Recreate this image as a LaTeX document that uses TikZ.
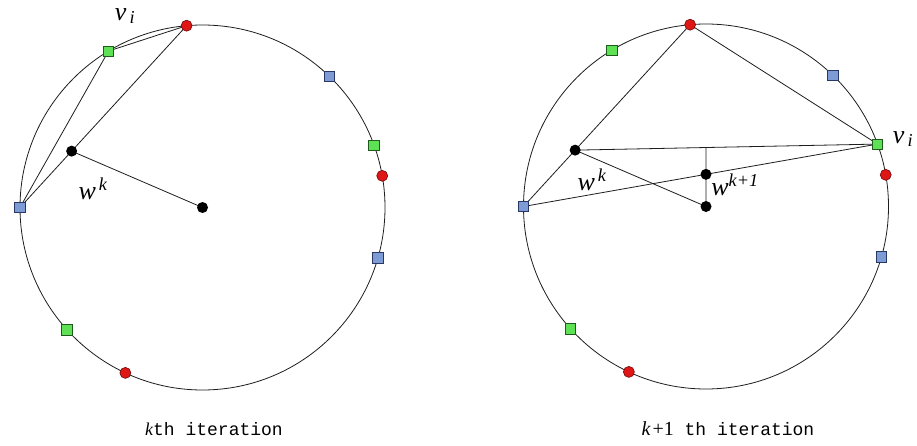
\documentclass[tikz,border=0pt]{standalone}
\usepackage{fontspec}
\newfontfamily\capfont{Liberation Mono}
\newfontfamily\lblfont{Liberation Serif}
\usetikzlibrary{calc}
\definecolor{mkgreen}{RGB}{95,225,85}
\definecolor{mkgreenb}{RGB}{30,90,30}
\definecolor{mkblue}{RGB}{125,155,212}
\definecolor{mkblueb}{RGB}{40,55,100}
\definecolor{mkred}{RGB}{222,22,22}
\definecolor{mkredb}{RGB}{110,10,10}
\definecolor{lncol}{RGB}{30,30,30}
\tikzset{
  ln/.style={draw=lncol, line width=0.8pt},
  gsq/.style={rectangle, draw=mkgreenb, fill=mkgreen, line width=0.6pt, minimum size=10.5pt, inner sep=0pt},
  bsq/.style={rectangle, draw=mkblueb, fill=mkblue, line width=0.6pt, minimum size=10.5pt, inner sep=0pt},
  rdot/.style={circle, draw=mkredb, fill=mkred, line width=0.6pt, minimum size=11pt, inner sep=0pt},
  kdot/.style={circle, fill=black, minimum size=11pt, inner sep=0pt},
  lbl/.style={inner sep=0pt, font=\fontsize{26}{26}\selectfont\lblfont\itshape},
  captext/.style={inner sep=0pt, font=\fontsize{18}{18}\selectfont\capfont}
}
\begin{document}
\begin{tikzpicture}[x=1pt,y=1pt]
\useasboundingbox (0,0) rectangle (917,445);
\fill[white] (0,0) rectangle (917,445);
% ---------- left picture ----------
\coordinate (L) at (202.5,237.5);
\coordinate (Lr1) at ($(L)+(95:182.5)$);
\coordinate (Lg1) at ($(L)+(121:182.5)$);
\coordinate (Lb1) at ($(L)+(46:182.5)$);
\coordinate (Lg2) at ($(L)+(20:182.5)$);
\coordinate (Lr2) at ($(L)+(10:182.5)$);
\coordinate (Lb2) at ($(L)+(-16:182.5)$);
\coordinate (Lg3) at ($(L)+(222:182.5)$);
\coordinate (Lr3) at ($(L)+(245:182.5)$);
\coordinate (Lb3) at ($(L)+(180:182.5)$);
\coordinate (Lw) at ($(Lb3)!0.31!(Lr1)$);
\draw[ln] (L) circle (182.5);
\draw[ln] (Lb3) -- (Lg1);
\draw[ln] (Lb3) -- (Lw);
\draw[ln] (Lw) -- (Lr1);
\draw[ln] (Lg1) -- (Lr1);
\draw[ln] (Lw) -- (L);
\node[rdot] (nLr1) at (Lr1) {};
\node[gsq] (nLg1) at (Lg1) {};
\node[bsq] (nLb1) at (Lb1) {};
\node[gsq] (nLg2) at (Lg2) {};
\node[rdot] (nLr2) at (Lr2) {};
\node[bsq] (nLb2) at (Lb2) {};
\node[gsq] (nLg3) at (Lg3) {};
\node[rdot] (nLr3) at (Lr3) {};
\node[bsq] (nLb3) at (Lb3) {};
\node[kdot] (nLw) at (Lw) {};
\node[kdot] (nL) at (L) {};
\node[lbl] (Lvi) at (125,429) {v\textsubscript{\,i}};
\node[lbl] (Lwk) at (93,256) {w\textsuperscript{\,k}};
\node[captext] (Lcap) at (214,16) {{\lblfont\itshape k}th iteration};
% ---------- right picture ----------
\coordinate (R) at (706,238.5);
\coordinate (Rr1) at ($(R)+(95:182.5)$);
\coordinate (Rg1) at ($(R)+(121:182.5)$);
\coordinate (Rb1) at ($(R)+(46:182.5)$);
\coordinate (Rg2) at ($(R)+(20:182.5)$);
\coordinate (Rr2) at ($(R)+(10:182.5)$);
\coordinate (Rb2) at ($(R)+(-16:182.5)$);
\coordinate (Rg3) at ($(R)+(222:182.5)$);
\coordinate (Rr3) at ($(R)+(245:182.5)$);
\coordinate (Rb3) at ($(R)+(180:182.5)$);
\coordinate (Rw) at ($(Rb3)!0.31!(Rr1)$);
\coordinate (Rup) at ($(R)+(0,100)$);
\coordinate (Rtop) at (intersection of Rw--Rg2 and R--Rup);
\coordinate (Rw1) at (intersection of Rb3--Rg2 and R--Rup);
\draw[ln] (R) circle (182.5);
\draw[ln] (Rr1) -- (Rw);
\draw[ln] (Rr1) -- (Rg2);
\draw[ln] (Rw) -- (Rg2);
\draw[ln] (Rw) -- (Rb3);
\draw[ln] (Rb3) -- (Rg2);
\draw[ln] (Rw) -- (R);
\draw[ln] (R) -- (Rtop);
\node[rdot] (nRr1) at (Rr1) {};
\node[gsq] (nRg1) at (Rg1) {};
\node[bsq] (nRb1) at (Rb1) {};
\node[gsq] (nRg2) at (Rg2) {};
\node[rdot] (nRr2) at (Rr2) {};
\node[bsq] (nRb2) at (Rb2) {};
\node[gsq] (nRg3) at (Rg3) {};
\node[rdot] (nRr3) at (Rr3) {};
\node[bsq] (nRb3) at (Rb3) {};
\node[kdot] (nRw) at (Rw) {};
\node[kdot] (nRw1) at (Rw1) {};
\node[kdot] (nR) at (R) {};
\node[lbl] (Rvi) at (903,306) {v\textsubscript{\,i}};
\node[lbl] (Rwk) at (592,265) {w\textsuperscript{\,k}};
\node[lbl] (Rwk1) at (735,260) {w\textsuperscript{k+1}};
\node[captext] (Rcap) at (728,16) {{\lblfont\fontsize{20}{20}\selectfont\itshape k}\kern2pt{\lblfont\fontsize{20}{20}\selectfont +1} th iteration};
\end{tikzpicture}
\end{document}
